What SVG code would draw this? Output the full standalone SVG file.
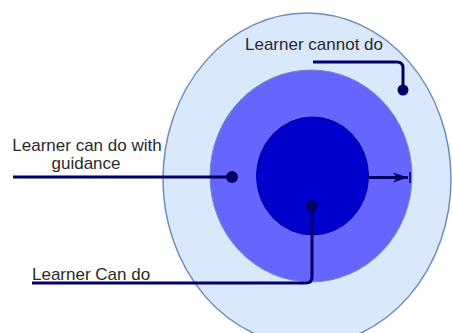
<svg xmlns="http://www.w3.org/2000/svg" width="452" height="333" viewBox="0 0 452 333">
  <style>
    .lbl { font-family: "Liberation Sans", Arial, sans-serif; font-size: 17px; fill: #2a2a2a; }
    .conn { fill: none; stroke: #000066; stroke-width: 3; stroke-linecap: butt; stroke-linejoin: round; }
    .dot { fill: #000066; }
  </style>
  <defs>
    <marker id="arr" markerWidth="16" markerHeight="12" refX="15" refY="6" orient="auto" markerUnits="userSpaceOnUse">
      <path d="M0,1 L15,6 L0,11 L4,6 Z" fill="#000066"/>
    </marker>
  </defs>
  <rect width="452" height="333" fill="#ffffff"/>
  <g id="outer">
    <ellipse cx="307" cy="179" rx="144" ry="166" fill="#dae8fc" stroke="#6c8ebf" stroke-width="1.5"/>
  </g>
  <g id="middle">
    <ellipse cx="311" cy="176" rx="101" ry="106" fill="#6666ff" stroke="#6c8ebf" stroke-width="1"/>
  </g>
  <g id="inner">
    <ellipse cx="312.5" cy="176" rx="56" ry="59" fill="#0000cc" stroke="#00009a" stroke-width="1"/>
  </g>
  <g id="label-cannot">
    <text class="lbl" x="314" y="50" text-anchor="middle">Learner cannot do</text>
  </g>
  <g id="label-guidance">
    <text class="lbl" x="87" y="151" text-anchor="middle">Learner can do with</text>
    <text class="lbl" x="86" y="169" text-anchor="middle">guidance</text>
  </g>
  <g id="label-cando">
    <text class="lbl" x="32" y="280">Learner Can do</text>
  </g>
  <g id="connectors">
    <path class="conn" d="M313,62 H397 Q403,62 403,68 V90"/>
    <circle class="dot" cx="403" cy="90" r="5.5"/>
    <path class="conn" d="M13,177 H232"/>
    <circle class="dot" cx="232" cy="177" r="6"/>
    <path class="conn" d="M32,283 H306 Q312,283 312,277 V206"/>
    <circle class="dot" cx="312" cy="206" r="6"/>
    <path class="conn" d="M368.5,177.5 H408" stroke-width="2.5" marker-end="url(#arr)"/>
    <path d="M410,172 V183" stroke="#000066" stroke-width="1.5"/>
  </g>
</svg>
